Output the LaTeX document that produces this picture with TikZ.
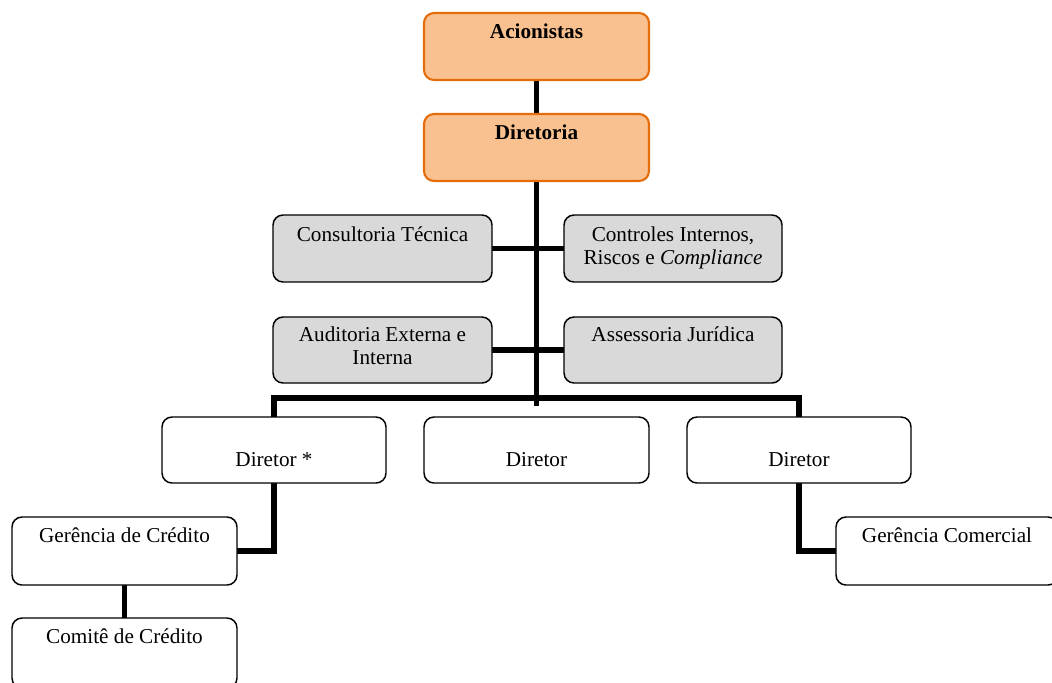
\documentclass[tikz,border=0pt]{standalone}
\usepackage{fontspec}
\setmainfont{Liberation Serif}
\pgfdeclarelayer{bg}
\pgfsetlayers{bg,main}
\definecolor{orfill}{HTML}{F9C18F}
\definecolor{ordraw}{HTML}{E46C0A}
\definecolor{grfill}{HTML}{D9D9D9}
\tikzset{
  boxbase/.style={draw=black, rounded corners=7.5pt, line width=1.1pt, inner sep=0pt, outer sep=0pt, font=\fontsize{15.9}{17.5}\selectfont},
  orbox/.style={boxbase, fill=orfill, draw=ordraw, line width=1.6pt, font=\fontsize{15.9}{17.5}\selectfont\bfseries},
  grbox/.style={boxbase, fill=grfill},
  whbox/.style={boxbase, fill=white},
  conn/.style={draw=black, line width=4pt},
}
% #1 name, #2 x1, #3 y1, #4 x2, #5 y2 (px), #6 style, #7 first baseline offset (px), #8 text
\newcommand{\orgbox}[8]{%
  \pgfmathsetmacro{\bw}{(#4-#2)*0.75}%
  \pgfmathsetmacro{\bh}{(#5-#3)*0.75}%
  \pgfmathsetmacro{\bo}{#7*0.75}%
  \node[#6, minimum width=\bw pt, minimum height=\bh pt] (#1) at ({(#2+#4)/2},{(#3+#5)/2})
    {\begin{minipage}[c][\bh pt][t]{\bw pt}\centering\rule{0pt}{\bo pt}#8\end{minipage}};%
}
\begin{document}
\begin{tikzpicture}[x=0.75pt, y=-0.75pt]
\clip (0,0) rectangle (1052,682);

\orgbox{acion}{424}{13}{649}{80}{orbox}{25}{Acionistas}
\orgbox{diret}{424}{114}{649}{181}{orbox}{25}{Diretoria}
\orgbox{cons}{273}{215}{492}{282}{grbox}{26}{Consultoria Técnica}
\orgbox{ctrl}{564}{215}{782}{282}{grbox}{26}{Controles Internos,\\ Riscos e \textit{Compliance}}
\orgbox{audit}{273}{317}{492}{383}{grbox}{24}{Auditoria Externa e\\ Interna}
\orgbox{assess}{564}{317}{782}{383}{grbox}{24}{Assessoria Jurídica}
\orgbox{dA}{162}{417}{386}{483}{whbox}{49}{Diretor *}
\orgbox{dB}{424}{417}{649}{483}{whbox}{49}{Diretor}
\orgbox{dC}{687}{417}{911}{483}{whbox}{49}{Diretor}
\orgbox{gcred}{12}{517}{237}{585}{whbox}{25}{Gerência de Crédito}
\orgbox{comite}{12}{618}{237}{688}{whbox}{25}{Comitê de Crédito}
\orgbox{gcom}{836}{517}{1058}{585}{whbox}{25}{Gerência Comercial}

\coordinate (bus) at (536.5,398);
\coordinate (trunkend) at (536.5,406);

\begin{pgfonlayer}{bg}
  \fill[white] (0,0) rectangle (1052,682);
  \draw[conn] (acion.south) -- (diret.north);
  \draw[conn] (diret.south) -- (trunkend);
  \draw[conn] (cons.east) -- (ctrl.west);
  \draw[conn] (audit.east) -- (assess.west);
  \draw[conn] (dA.north) |- (bus) -| (dC.north);
  \draw[conn] (dA.south) |- (gcred.east);
  \draw[conn] (gcred.south) -- (comite.north);
  \draw[conn] (dC.south) |- (gcom.west);
\end{pgfonlayer}
\end{tikzpicture}
\end{document}
